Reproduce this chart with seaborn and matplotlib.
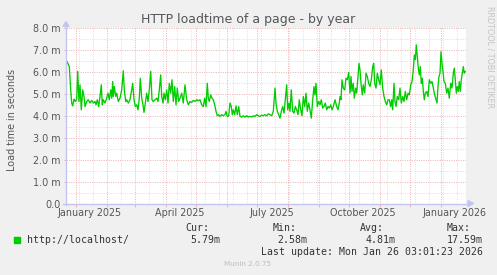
import numpy as np
import pandas as pd
import matplotlib
matplotlib.use("Agg")
import matplotlib.pyplot as plt
import matplotlib.dates as mdates
import matplotlib.transforms as mtrans
from matplotlib.patches import Polygon, Rectangle
from matplotlib.lines import Line2D
import seaborn as sns

# ---------------- data ----------------
TITLE = "HTTP loadtime of a page - by year"
Y_LABEL = "Load time in seconds"
SERIES_NAME = "http://localhost/"
DATA_ORIGIN = "2024-12-23 03:00"          # day 0 of the offsets below
VIEW_START = "2024-12-22 03:00"
VIEW_END = "2026-01-26 03:00"

DAY_OFFSETS = [
    0, 2.3, 3.7, 4.7, 5.7, 7, 8.3, 9.7, 10.7, 12, 13, 14.3, 15.7, 17, 18, 19.7, 21.3, 23, 24.7, 26.3,
    28, 29, 30.3, 31.7, 33, 34.3, 35.3, 36.3, 38, 39.7, 41, 42.3, 43.7, 44.7, 45.7, 46.3, 47.3, 48.7, 49.7, 51.3,
    53, 54.7, 56.3, 57.3, 58.7, 59.7, 61.3, 63, 64.7, 65.7, 67, 68.3, 69.7, 71, 72.3, 73.3, 74.7, 75.7, 77, 78.3,
    79.7, 81, 82.3, 83.7, 85, 86.3, 88, 89.7, 91, 92.3, 93.7, 94.7, 96, 97, 98.3, 99.7, 101, 102.3, 103.7, 105,
    106.3, 107.7, 109, 110.3, 111.7, 113, 114.7, 116.3, 118, 119.7, 121.3, 123, 124.7, 126.3, 128, 129.7, 131.3,
    133, 134.7, 136.3, 137.7, 139, 140.3, 141.3, 142.3, 143.7, 145, 146.3, 147.7, 149, 150.3, 151.7, 153, 154.7,
    156.3, 158, 159, 160.3, 161.7, 163, 164.3, 165.3, 166.3, 167.7, 169, 170.3, 171.7, 173, 174.7, 176.3, 178,
    179.7, 181.3, 183, 184.7, 186.3, 188, 189.7, 191.3, 193, 194.7, 196.3, 198, 199.7, 201.3, 203, 204.7, 206.3,
    208, 209, 210.3, 211.7, 213, 214.3, 215.7, 217, 218.3, 219.7, 220.7, 222, 223, 224.3, 225.7, 227, 228.3,
    229.7, 231, 232.3, 233.7, 235, 236.3, 237.7, 239, 240.3, 241.7, 243, 244.3, 245.7, 247, 248, 249, 250.3,
    251.7, 253, 254.3, 255.7, 257, 258.3, 259.7, 261, 262.3, 263.7, 265, 266.3, 268, 269.7, 271, 272.3,
    273, 274, 275, 276.3, 277.7, 279, 280.3, 281.7, 283, 284, 285, 286.3, 287.3, 288.7, 289.7, 290.7, 292, 293,
    294, 295.3, 296.3, 297.7, 299, 300.3, 301.7, 303, 304.3, 305.7, 306.7, 307.7, 309, 310.3, 311.7, 313, 314.3,
    315.7, 317, 318.3, 319.7, 321, 322.3, 323.7, 324.7, 325.7, 327, 328, 329, 330.3, 331.7, 333, 334.3, 335.7,
    337, 338.3, 339.7, 341, 342.3, 343.7, 345, 346.3, 347.3, 348.3, 349.3, 350.3, 351.3, 352.3, 353.3, 354.3,
    355.3, 356.3, 357.3, 358.3, 359.7, 361, 362.3, 363.7, 365, 366.3, 367.7, 369, 370, 371, 372, 373, 374, 375,
    376, 377, 378.3, 379.7, 381, 382.3, 383.7, 385, 386.3, 387.3, 388.3, 389.3, 390.3, 391.3, 392.3, 393.3,
    394.3, 395.3, 396.3, 397.3, 398.3,
]
LOAD_MS = [
    6.47, 6.24, 5.18, 4.58, 4.45, 4.76, 4.65, 4.76, 6.02, 4.65, 5.41, 4.27, 5.18, 4.88, 4.42, 4.65, 4.73, 4.58, 4.70, 4.58,
    4.65, 4.50, 4.73, 4.42, 4.88, 5.41, 4.50, 4.73, 4.58, 4.80, 5.03, 4.73, 5.18, 4.80, 5.56, 4.88, 5.33, 4.88, 5.03, 4.65,
    4.80, 5.18, 6.05, 5.18, 4.65, 4.73, 4.58, 4.73, 5.18, 5.48, 4.73, 4.42, 4.50, 4.27, 4.80, 5.71, 4.80, 4.58, 4.15, 4.58,
    5.03, 4.65, 5.18, 6.02, 4.73, 4.65, 4.73, 4.80, 4.65, 5.18, 5.86, 4.88, 4.58, 5.03, 4.73, 5.18, 4.58, 5.48, 5.03, 5.64,
    4.65, 5.33, 4.50, 5.26, 4.65, 4.80, 5.03, 4.58, 5.41, 4.73, 4.50, 4.65, 4.61, 4.70, 4.65, 4.73, 4.68,
    4.73, 4.50, 4.42, 4.80, 4.42, 5.48, 4.80, 4.65, 4.95, 4.80, 4.73, 4.50, 4.20, 4.00, 4.05, 3.97, 4.05,
    4.00, 4.05, 4.20, 3.97, 4.00, 4.58, 4.42, 4.05, 4.27, 4.05, 4.45, 4.05, 4.42, 3.97, 3.94, 4.00, 3.94,
    4.00, 3.94, 3.97, 3.94, 4.00, 3.97, 4.05, 4.00, 3.97, 4.03, 4.00, 4.05, 4.00, 4.09, 4.05, 4.00, 4.20,
    5.26, 4.58, 4.20, 4.05, 3.89, 4.20, 4.42, 4.12, 4.73, 5.41, 4.27, 4.58, 4.20, 5.18, 4.20, 4.12, 4.42,
    4.27, 4.05, 4.73, 4.27, 4.00, 4.88, 4.42, 5.03, 4.20, 4.58, 4.27, 3.89, 4.73, 5.33, 4.95, 5.48, 4.42,
    4.65, 4.50, 4.73, 4.35, 4.42, 4.58, 4.27, 4.42, 4.35, 4.50, 4.27, 4.42, 4.73, 4.42, 4.27, 4.58,
    4.88, 4.73, 5.64, 5.26, 5.18, 5.71, 5.64, 5.97, 5.03, 5.79, 5.11, 5.48, 4.80, 5.26, 5.03, 5.64, 6.39, 6.09,
    5.48, 4.95, 5.41, 5.03, 5.94, 5.79, 5.48, 5.33, 5.64, 6.24, 6.39, 5.48, 5.26, 5.94, 5.64, 5.41, 6.09,
    5.26, 4.88, 4.65, 4.50, 4.73, 4.73, 4.42, 4.73, 4.27, 5.48, 4.65, 4.42, 4.88, 4.73, 5.26, 4.58, 4.88,
    4.65, 5.11, 4.73, 5.03, 4.95, 5.41, 5.56, 6.09, 6.77, 6.55, 7.23, 6.70, 6.17, 5.86, 6.24, 5.48,
    5.71, 5.11, 4.73, 5.03, 5.11, 4.88, 5.64, 5.48, 5.56, 5.26, 4.95, 4.73, 4.58, 5.33, 5.79, 5.94, 6.92, 6.39,
    6.02, 5.56, 5.48, 5.03, 5.26, 4.80, 5.48, 5.26, 5.94, 6.17, 5.64, 5.03, 5.33, 5.11, 5.56, 5.11,
    5.64, 5.94, 6.24, 5.94, 6.02,
]
Y_TICKS = [0, 1, 2, 3, 4, 5, 6, 7, 8]
Y_TICK_LABELS = ["0.0", "1.0 m", "2.0 m", "3.0 m", "4.0 m", "5.0 m", "6.0 m", "7.0 m", "8.0 m"]
X_LABELS = ["January 2025", "April 2025", "July 2025", "October 2025", "January 2026"]
X_LABEL_DATES = ["2025-01-15", "2025-04-15", "2025-07-16", "2025-10-15", "2026-01-15"]
STAT_HEADERS = ["Cur:", "Min:", "Avg:", "Max:"]
STAT_VALUES = ["5.79m", "2.58m", "4.81m", "17.59m"]
LAST_UPDATE = "Last update: Mon Jan 26 03:01:23 2026"
FOOTER = "Munin 2.0.75"
SIDE_TEXT = "RRDTOOL / TOBI OETIKER"

# ---------------- styling ----------------
W, H = 497, 275
BG = "#F0F0F0"
GREEN = "#00CC00"
RED_GRID = "#EBB0B0"
GREY_GRID = "#DDDDDD"
AXIS_COL = "#C4C4F2"
TEXT_COL = "#555555"

def fx(x):
    return x / W

def fy(y):
    return 1 - y / H

fig = plt.figure(figsize=(W / 100, H / 100), dpi=100, facecolor=BG)
L, R, T, B = 66, 466, 28, 203.5
ax = fig.add_axes([fx(L), fy(B), (R - L) / W, (B - T) / H])
ax.set_facecolor("white")

df = pd.DataFrame({
    "time": pd.Timestamp(DATA_ORIGIN) + pd.to_timedelta(DAY_OFFSETS, unit="D"),
    "load": LOAD_MS,
})
sns.lineplot(data=df, x="time", y="load", ax=ax, color=GREEN, linewidth=0.95,
             estimator=None, sort=False, zorder=5)

ax.set_xlim(pd.Timestamp(VIEW_START), pd.Timestamp(VIEW_END))
ax.set_ylim(0, 8)

# grids
ax.xaxis.set_major_locator(mdates.MonthLocator())
ax.set_xticks(pd.date_range("2025-01-04", "2026-01-26", freq="14D"), minor=True)
ax.set_yticks(Y_TICKS)
ax.set_yticks(np.arange(0.5, 8, 1.0), minor=True)
ax.set_axisbelow(True)
ax.grid(which="minor", color=GREY_GRID, linestyle=(0, (1, 1.4)), linewidth=0.7)
ax.grid(which="major", color=RED_GRID, linestyle=(0, (1, 1.4)), linewidth=0.7)

ax.set_xticklabels([])
ax.tick_params(axis="x", which="major", length=2.3, width=0.7, color=RED_GRID, labelbottom=False)
ax.tick_params(axis="x", which="minor", length=0)
ax.tick_params(axis="y", which="minor", length=0)
ax.set_yticklabels(Y_TICK_LABELS)
ax.tick_params(axis="y", which="major", length=1.5, width=0.7, color=RED_GRID, pad=2.2,
               labelsize=6.9, labelcolor=TEXT_COL)
for lbl in ax.get_yticklabels():
    lbl.set_fontfamily("DejaVu Sans")
ax.set_xlabel("")
ax.set_ylabel("")
for s in ax.spines.values():
    s.set_visible(False)

# x labels
tr = mtrans.blended_transform_factory(ax.transData, fig.transFigure)
for lab, d in zip(X_LABELS, X_LABEL_DATES):
    ax.text(mdates.date2num(pd.Timestamp(d)), fy(212.7), lab, transform=tr, ha="center",
            va="center", fontsize=6.9, color=TEXT_COL, family="DejaVu Sans", clip_on=False)

# axis lines with arrows
fig.add_artist(Line2D([fx(L), fx(L)], [fy(B + 1.5), fy(25)], color=AXIS_COL, linewidth=1.0,
                      transform=fig.transFigure, zorder=10))
fig.add_artist(Line2D([fx(L - 3), fx(469)], [fy(B), fy(B)], color=AXIS_COL, linewidth=1.0,
                      transform=fig.transFigure, zorder=10))
fig.add_artist(Polygon([[fx(L - 3), fy(26.5)], [fx(L + 3), fy(26.5)], [fx(L), fy(21.5)]],
                       closed=True, color=AXIS_COL, transform=fig.transFigure, zorder=10))
fig.add_artist(Polygon([[fx(468), fy(B - 3)], [fx(468), fy(B + 3)], [fx(473.5), fy(B)]],
                       closed=True, color=AXIS_COL, transform=fig.transFigure, zorder=10))

# titles
fig.text(fx(248.5), fy(19), TITLE, ha="center", va="center", fontsize=9, color=TEXT_COL,
         family="DejaVu Sans")
fig.text(fx(12), fy(120), Y_LABEL, ha="center", va="center", rotation=90, fontsize=6.9,
         color=TEXT_COL, family="DejaVu Sans")
fig.text(fx(490), fy(6), SIDE_TEXT, ha="center", va="top", rotation=270, fontsize=5.8,
         color="#C4C4C4", family="DejaVu Sans")

# legend
fig.add_artist(Rectangle((fx(14), fy(243.3)), 6 / W, 6 / H, color=GREEN, transform=fig.transFigure))
mono = dict(family="DejaVu Sans Mono", fontsize=7.1, color="#333333", va="center")
fig.text(fx(26.7), fy(240), SERIES_NAME, ha="left", **mono)
for hx, h in zip([185.7, 272.7, 360, 446.7], STAT_HEADERS):
    fig.text(fx(hx), fy(227.7), h, ha="left", **mono)
for vx, v in zip([220.7, 307.7, 395.7, 482.7], STAT_VALUES):
    fig.text(fx(vx), fy(240), v, ha="right", **mono)
fig.text(fx(482.7), fy(251.7), LAST_UPDATE, ha="right", **mono)
fig.text(fx(248), fy(264), FOOTER, ha="center", va="center", fontsize=5.2, color="#BDBDBD",
         family="DejaVu Sans")

fig.savefig("out.png", dpi=100, facecolor=BG)
